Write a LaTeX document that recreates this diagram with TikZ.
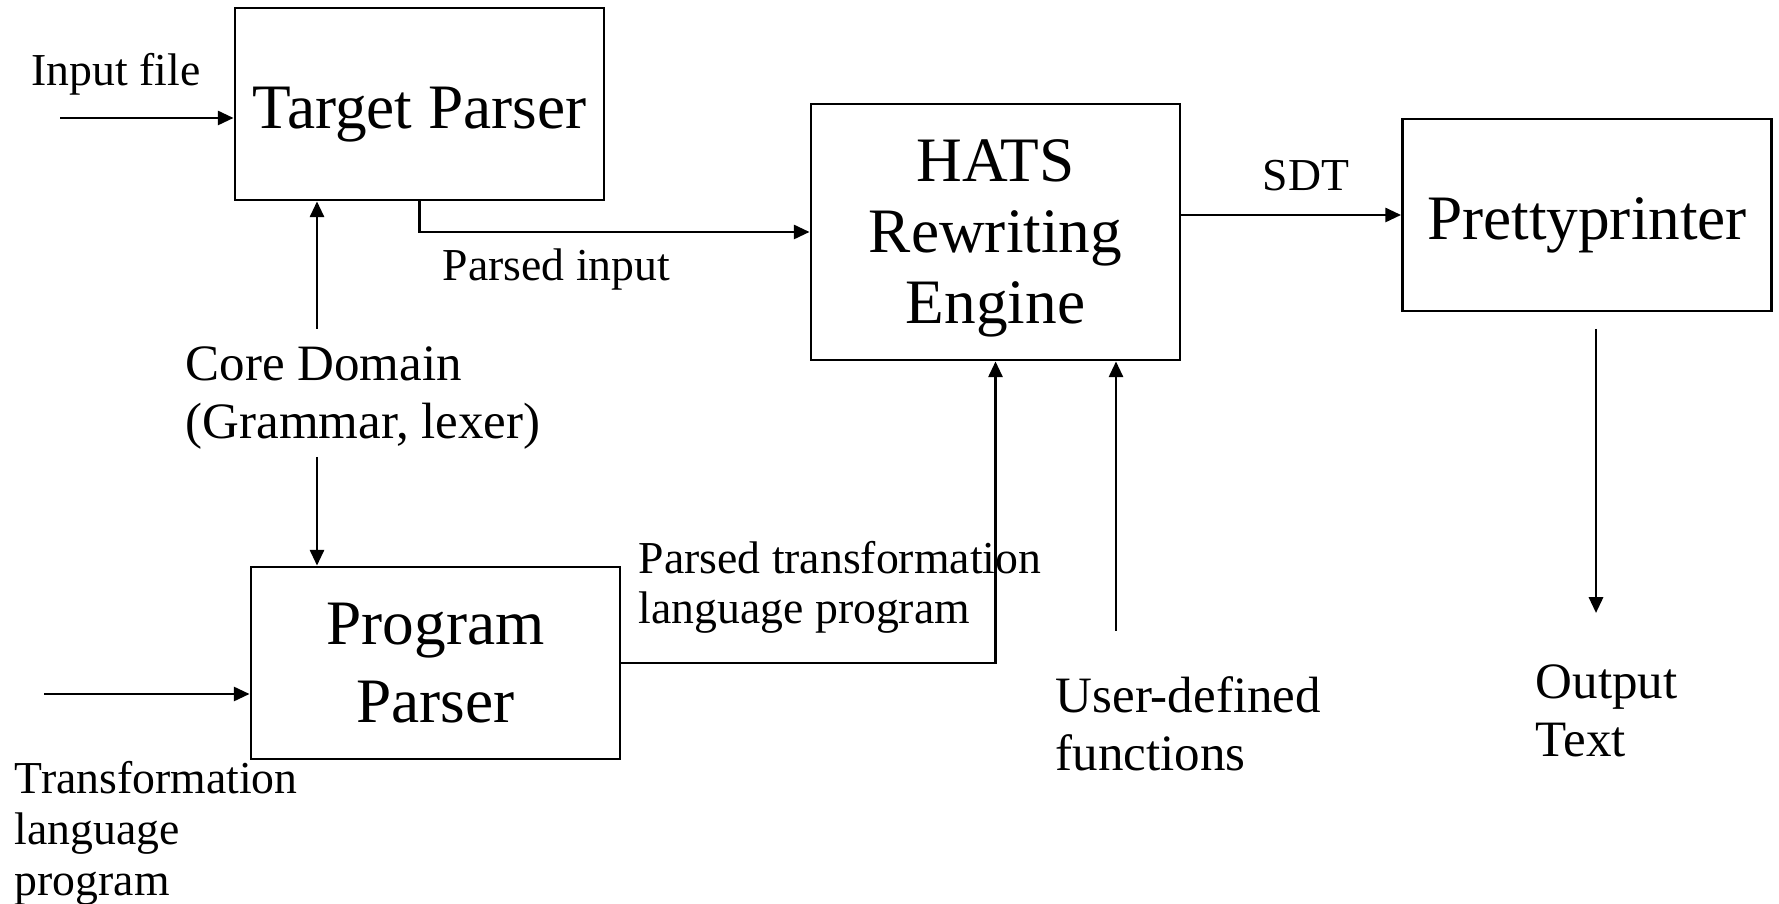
\documentclass[tikz,border=0pt]{standalone}
\usepackage{fontspec}
\setmainfont{Liberation Serif}
\usetikzlibrary{arrows.meta,positioning}

\begin{document}
\begin{tikzpicture}[
    x=0.01cm, y=-0.01cm,
    box/.style={
      draw,
      line width=0.75pt,
      align=center,
      inner sep=0pt,
      minimum width=3.69cm,
      minimum height=1.92cm,
      text height=14.1pt,
      text depth=0pt,
      font=\fontsize{18}{21}\selectfont
    },
    lbl/.style={
      align=left,
      anchor=west,
      inner sep=0pt,
      font=\fontsize{13}{14.2}\selectfont
    },
    biglbl/.style={lbl, font=\fontsize{14.5}{16.5}\selectfont},
    arrow/.style={-{Triangle[length=4.5pt,width=4pt]}, line width=0.8pt}
  ]
  \useasboundingbox (0,0) rectangle (1779,904);

  \node[box] (target-parser) at (419.5,104) {Target Parser};
  \node[box, minimum height=2.56cm, text height=, text depth=-4.5pt,
    font=\fontsize{18}{20.2}\selectfont]
    (hats) at (995.5,232) {HATS\\Rewriting\\Engine};
  \node[box] (pretty) at (1587,215) {Prettyprinter};
  \node[box, text height=, text depth=-2.8pt, font=\fontsize{18}{22.2}\selectfont]
    (program-parser) at (435.5,663) {Program\\Parser};

  \node[lbl] (input-label) at (31,74) {Input file};
  \node[lbl] (parsed-input) at (442,270) {Parsed input};
  \node[lbl] (sdt) at (1262,176) {SDT};
  \node[biglbl] (core) at (185,398) {Core Domain\\(Grammar, lexer)};
  \node[lbl] (parsed-trans) at (638,587) {Parsed transformation\\language program};
  \node[biglbl] (user) at (1055,724) {User-defined\\functions};
  \node[biglbl] (output) at (1535,711) {Output\\Text};
  \node[lbl, font=\fontsize{13}{14.5}\selectfont]
    (trans-label) at (14,833) {Transformation\\language\\program};

  \coordinate (input-start) at (60,118);
  \coordinate (prog-start) at (44,694);
  \coordinate (core-up) at (317,329);
  \coordinate (core-down) at (317,457);
  \coordinate (user-start) at (1116,631);
  \coordinate (out-start) at (1596,329);
  \coordinate (out-end) at (1596,613);

  \draw[arrow] (input-start) -- (input-start -| target-parser.west);
  \draw[arrow] (core-up) -- (core-up |- target-parser.south);
  \draw[arrow] (core-down) -- (core-down |- program-parser.north);
  \draw[arrow] (target-parser.south) |- (hats.west);
  \draw[arrow] (hats.east |- pretty.west) -- (pretty.west);
  \draw[arrow] (prog-start) -- (prog-start -| program-parser.west);
  \draw[arrow] (program-parser.east) -| (hats.south);
  \draw[arrow] (user-start) -- (user-start |- hats.south);
  \draw[arrow] (out-start) -- (out-end);
\end{tikzpicture}
\end{document}
